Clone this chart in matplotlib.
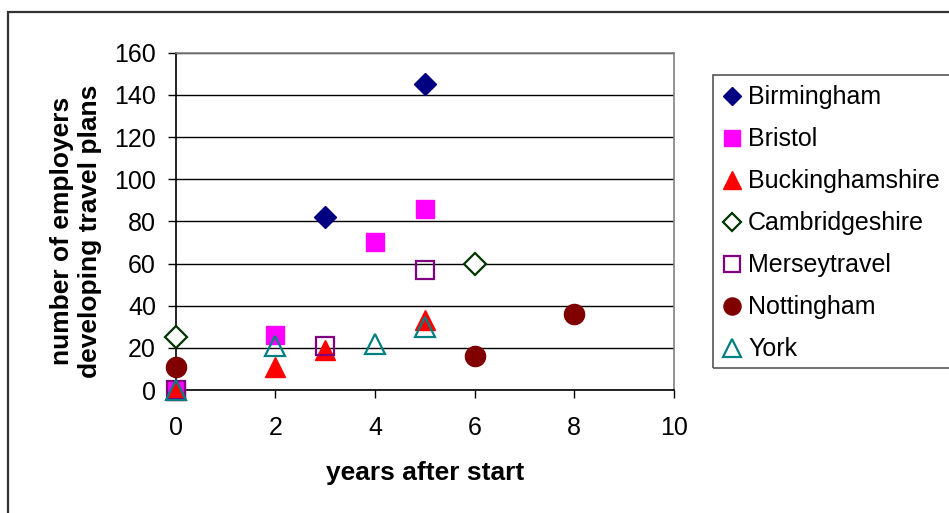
import matplotlib
matplotlib.use("Agg")
import matplotlib.pyplot as plt
from matplotlib.patches import Rectangle

plt.rcParams['font.family'] = ['Liberation Sans', 'DejaVu Sans']

series_names = ["Birmingham", "Bristol", "Buckinghamshire", "Cambridgeshire",
                "Merseytravel", "Nottingham", "York"]
birmingham_x = [3, 5]
birmingham_y = [82, 145]
bristol_x = [0, 2, 4, 5]
bristol_y = [0, 26, 70, 86]
buckinghamshire_x = [0, 2, 3, 5]
buckinghamshire_y = [0, 11, 19, 33]
cambridgeshire_x = [0, 6]
cambridgeshire_y = [25, 60]
merseytravel_x = [0, 3, 5]
merseytravel_y = [0, 21, 57]
nottingham_x = [0, 6, 8]
nottingham_y = [11, 16, 36]
york_x = [0, 2, 4, 5]
york_y = [0, 21, 22, 30]

x_ticks = [0, 2, 4, 6, 8, 10]
y_ticks = [0, 20, 40, 60, 80, 100, 120, 140, 160]

W, H = 949, 513
fig = plt.figure(figsize=(W / 100, H / 100), dpi=100)

# outer chart-area frame (partly cut off)
fig.patches.append(Rectangle((7.5 / W, -0.2), 1.2, (H - 12) / H + 0.2,
                             transform=fig.transFigure, fill=False,
                             edgecolor='#333333', linewidth=1.6))
# legend frame (right side cut off by the image edge)
fig.patches.append(Rectangle((713 / W, (H - 368) / H), 0.5, (368 - 75) / H,
                             transform=fig.transFigure, fill=False,
                             edgecolor='#555555', linewidth=1.2))

L, R, T, B = 175.5, 674, 52.7, 390
ax = fig.add_axes([L / W, (H - B) / H, (R - L) / W, (B - T) / H])
ax.set_xlim(0, 10)
ax.set_ylim(0, 160)
ax.set_xticks(x_ticks)
ax.set_yticks(y_ticks)
ax.set_xticklabels([str(v) for v in x_ticks])
ax.set_yticklabels([str(v) for v in y_ticks])
ax.tick_params(direction='out', length=6, width=1, colors='black',
               labelsize=18)
ax.tick_params(axis='y', pad=8)
ax.tick_params(axis='x', pad=13)
ax.grid(axis='y', color='black', linewidth=1)
ax.set_axisbelow(True)
ax.spines['left'].set_color('black')
ax.spines['bottom'].set_color('black')
ax.spines['top'].set_color('#808080')
ax.spines['right'].set_color('#808080')
for s in ax.spines.values():
    s.set_linewidth(1.2)

styles = [
    (birmingham_x, birmingham_y, dict(marker='D', ms=11, mfc='#000080', mec='#000080')),
    (bristol_x, bristol_y, dict(marker='s', ms=13, mfc='#FF00FF', mec='#FF00FF')),
    (buckinghamshire_x, buckinghamshire_y, dict(marker='^', ms=15, mfc='#FF0000', mec='#FF0000')),
    (cambridgeshire_x, cambridgeshire_y, dict(marker='D', ms=11, mfc='white', mec='#003300', mew=1.6)),
    (merseytravel_x, merseytravel_y, dict(marker='s', ms=13, mfc='none', mec='#800080', mew=1.6)),
    (nottingham_x, nottingham_y, dict(marker='o', ms=14.5, mfc='#800000', mec='#800000')),
    (york_x, york_y, dict(marker='^', ms=15, mfc='none', mec='#008080', mew=1.6)),
]
handles = []
for name, (xs, ys, st) in zip(series_names, styles):
    h, = ax.plot(xs, ys, linestyle='none', label=name, clip_on=False, zorder=3, **st)
    handles.append(h)

ax.set_xlabel("years after start", fontsize=19, fontweight='bold', labelpad=15)
ax.set_ylabel("number of employers\ndeveloping travel plans", fontsize=19,
              fontweight='bold', linespacing=1.2)
ax.yaxis.set_label_coords(-0.147, 0.471)

leg = fig.legend(handles=handles, loc='upper left',
                 bbox_to_anchor=(713 / W, 1 - 75 / H), bbox_transform=fig.transFigure,
                 frameon=False,
                 fontsize=18, markerscale=0.85, handlelength=0.68, handletextpad=0.3,
                 labelspacing=0.72, borderpad=0.42, borderaxespad=0)

fig.savefig("out.png", dpi=100)
